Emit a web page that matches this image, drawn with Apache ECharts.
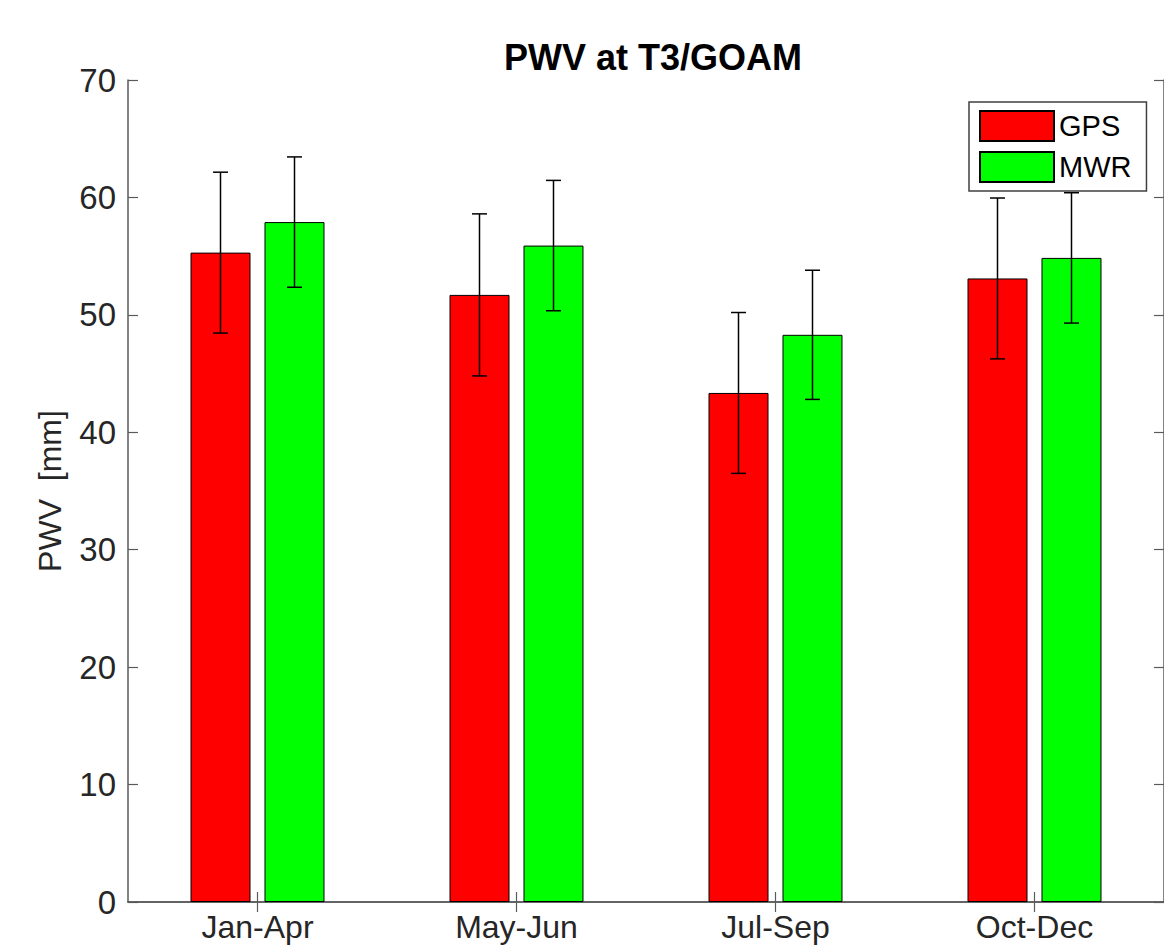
<!DOCTYPE html>
<html>
<head>
<meta charset="utf-8">
<script src="https://cdn.jsdelivr.net/npm/echarts@6/dist/echarts.min.js"></script>
<style>
  html, body { margin: 0; padding: 0; background: #fff; }
  #chart { width: 1164px; height: 946px; }
</style>
</head>
<body>
<div id="chart"></div>
<script>
const categories = ['Jan-Apr', 'May-Jun', 'Jul-Sep', 'Oct-Dec'];
const gpsMean = [55.3, 51.7, 43.35, 53.1];
const gpsErr  = [6.85, 6.9, 6.85, 6.85];
const mwrMean = [57.9, 55.9, 48.3, 54.85];
const mwrErr  = [5.55, 5.55, 5.5, 5.55];
const yTicks = [0, 10, 20, 30, 40, 50, 60, 70];

const FONT = 'Liberation Sans, Arial, Helvetica, sans-serif';
const TXT = '#262626';
const AX = '#5a5a5a';

function errData(mean, err) {
  return mean.map((m, i) => [i, m - err[i], m + err[i]]);
}

function errRender(offset) {
  return function (params, api) {
    const c = api.value(0);
    const x = api.coord([c, 0])[0] + offset;
    const yl = api.coord([c, api.value(1)])[1];
    const yh = api.coord([c, api.value(2)])[1];
    const half = 7.5;
    const st = { stroke: '#000', lineWidth: 1.5 };
    return {
      type: 'group',
      children: [
        { type: 'line', shape: { x1: x, y1: yl, x2: x, y2: yh }, style: st },
        { type: 'line', shape: { x1: x - half, y1: yh, x2: x + half, y2: yh }, style: st },
        { type: 'line', shape: { x1: x - half, y1: yl, x2: x + half, y2: yl }, style: st }
      ]
    };
  };
}

const chart = echarts.init(document.getElementById('chart'), null, { renderer: 'svg' });

const axisCommonY = {
  type: 'value', min: yTicks[0], max: yTicks[yTicks.length - 1], interval: 10,
  splitLine: { show: false },
  axisLine: { show: true, lineStyle: { color: AX, width: 1.5 } },
  axisTick: { show: true, inside: true, length: 10, lineStyle: { color: AX, width: 1.2 } }
};
const axisCommonX = {
  type: 'category', data: categories, boundaryGap: true,
  splitLine: { show: false },
  axisLine: { show: true, lineStyle: { color: AX, width: 1.5 } },
  axisTick: { show: true, inside: true, alignWithLabel: true, length: 10, lineStyle: { color: AX, width: 1.2 } }
};

chart.setOption({
  animation: false,
  backgroundColor: '#ffffff',
  title: {
    text: 'PWV at T3/GOAM',
    left: 648, textAlign: 'center', top: 34,
    textStyle: { fontFamily: FONT, fontSize: 36, fontWeight: 'bold', color: '#000' }
  },
  grid: { left: 128, top: 80, width: 1041, height: 822 },
  legend: {
    data: ['GPS', 'MWR'],
    icon: 'rect',
    orient: 'vertical',
    left: 969, top: 102,
    itemWidth: 74, itemHeight: 30, itemGap: 9,
    padding: [8, 15, 8, 10],
    borderColor: '#404040', borderWidth: 1.5,
    backgroundColor: '#fff',
    selectedMode: false,
    textStyle: { fontFamily: FONT, fontSize: 29, color: '#000', padding: [0, 0, 0, 0] }
  },
  xAxis: [
    Object.assign({}, axisCommonX, {
      position: 'bottom',
      axisLabel: { show: true, margin: 9, fontFamily: FONT, fontSize: 32, color: TXT }
    }),
    Object.assign({}, axisCommonX, {
      position: 'top',
      axisLabel: { show: false }
    })
  ],
  yAxis: [
    Object.assign({}, axisCommonY, {
      position: 'left',
      name: 'PWV  [mm]', nameLocation: 'middle', nameRotate: 90, nameGap: 62,
      nameTextStyle: { fontFamily: FONT, fontSize: 32, color: TXT },
      axisLabel: { show: true, margin: 12, fontFamily: FONT, fontSize: 33, color: TXT }
    }),
    Object.assign({}, axisCommonY, {
      position: 'right',
      axisLabel: { show: false }
    })
  ],
  series: [
    {
      name: 'GPS', type: 'bar', data: gpsMean,
      barWidth: 60, barGap: '23.3%',
      itemStyle: { color: '#ff0000', borderColor: '#000', borderWidth: 1 }
    },
    {
      name: 'MWR', type: 'bar', data: mwrMean,
      barWidth: 60, barGap: '23.3%',
      itemStyle: { color: '#00ff00', borderColor: '#000', borderWidth: 1 }
    },
    {
      name: 'GPS err', type: 'custom', z: 10,
      renderItem: errRender(-37), data: errData(gpsMean, gpsErr), silent: true
    },
    {
      name: 'MWR err', type: 'custom', z: 10,
      renderItem: errRender(37), data: errData(mwrMean, mwrErr), silent: true
    }
  ]
});
</script>
</body>
</html>
